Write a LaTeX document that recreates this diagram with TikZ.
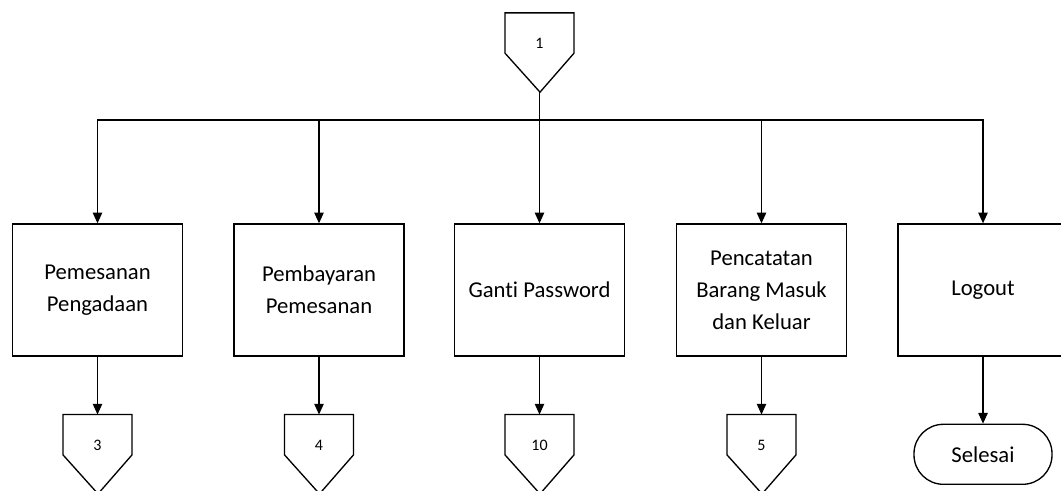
\documentclass[tikz,border=0pt]{standalone}
\usepackage{fontspec}
\setmainfont{Carlito}[Ligatures=NoCommon]
\usetikzlibrary{arrows.meta}
\tikzset{every picture/.style={line width=0.75pt}}
\tikzset{
  proc/.style={draw, line width=1pt, minimum width=127.5pt, minimum height=99pt, align=center, font=\fontsize{17}{24}\selectfont},
  offpg/.style={minimum width=51pt, minimum height=29.5pt, inner sep=0pt, text height=23pt, text depth=0pt, font=\fontsize{12}{14}\selectfont},
  pent/.style={line width=1pt},
  term/.style={draw, line width=1pt, rounded corners=22pt, minimum width=103.5pt, minimum height=45pt, font=\fontsize{17}{24}\selectfont},
  flow/.style={line width=1pt, -{Triangle[length=8pt,width=7pt]}}
}

\begin{document}
\begin{tikzpicture}[x=0.75pt,y=0.75pt,yscale=-1,xscale=1]
\useasboundingbox (0,0) rectangle (1061,490);

%Shape: Off-page connector (top)
\node[offpg] (p1) at (539.5,33) {1};
\draw[pent] (p1.north west) -- (p1.north east) -- (p1.south east) -- +(-34,39) -- (p1.south west) -- cycle;
\coordinate (tip1) at (539.5,91.7);
\coordinate (bus) at (539.5,120);

%Shape: Rectangle
\node[proc] (b1) at (97.5,290) {Pemesanan\\Pengadaan};
%Shape: Rectangle
\node[proc] (b2) at (319,290) {Pembayaran\\Pemesanan};
%Shape: Rectangle
\node[proc] (b3) at (539.5,290) {Ganti Password};
%Shape: Rectangle
\node[proc] (b4) at (761.5,290) {Pencatatan\\Barang Masuk\\dan Keluar};
%Shape: Rectangle
\node[proc] (b5) at (983,290) {Logout};

%Shape: Off-page connectors (bottom)
\node[offpg] (p3) at (97.5,434.7) {3};
\draw[pent] (p3.north west) -- (p3.north east) -- (p3.south east) -- +(-34,39) -- (p3.south west) -- cycle;
\node[offpg] (p4) at (319,434.7) {4};
\draw[pent] (p4.north west) -- (p4.north east) -- (p4.south east) -- +(-34,39) -- (p4.south west) -- cycle;
\node[offpg] (p10) at (539.5,434.7) {10};
\draw[pent] (p10.north west) -- (p10.north east) -- (p10.south east) -- +(-34,39) -- (p10.south west) -- cycle;
\node[offpg] (p5) at (761.5,434.7) {5};
\draw[pent] (p5.north west) -- (p5.north east) -- (p5.south east) -- +(-34,39) -- (p5.south west) -- cycle;

%Shape: Terminator
\node[term] (end) at (983,454.3) {Selesai};

%Straight Lines
\draw[line width=1pt] (tip1) -- (bus);
\draw[flow] (bus) -| (b1);
\draw[flow] (bus) -| (b2);
\draw[flow] (bus) -- (b3);
\draw[flow] (bus) -| (b4);
\draw[flow] (bus) -| (b5);

\draw[flow] (b1) -- (p3);
\draw[flow] (b2) -- (p4);
\draw[flow] (b3) -- (p10);
\draw[flow] (b4) -- (p5);
\draw[flow] (b5) -- (end);

\end{tikzpicture}
\end{document}
